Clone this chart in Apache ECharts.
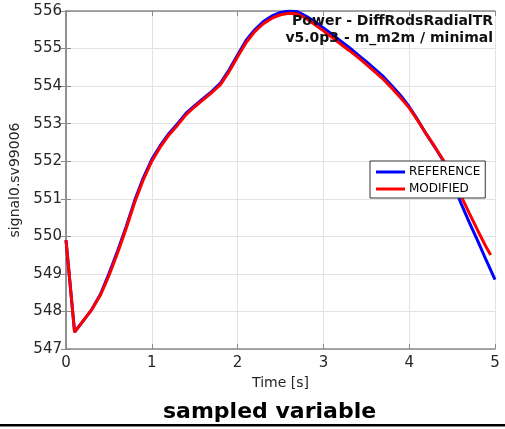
<!DOCTYPE html>
<html>
<head>
<meta charset="utf-8">
<script src="https://cdn.jsdelivr.net/npm/echarts@6/dist/echarts.min.js"></script>
<style>
html,body{margin:0;padding:0;background:#fff;}
#chart{width:505px;height:429px;}
</style>
</head>
<body>
<div id="chart"></div>
<script>
var timesRef = [0,0.1,0.2,0.3,0.4,0.5,0.6,0.7,0.8,0.9,1.0,1.1,1.2,1.3,1.4,1.5,1.6,1.7,1.8,1.9,2.0,2.1,2.2,2.3,2.4,2.5,2.6,2.7,2.8,2.9,3.0,3.1,3.2,3.3,3.4,3.5,3.6,3.7,3.8,3.9,4.0,4.1,4.2,4.3,4.4,4.5,4.6,4.7,4.8,4.9,5.0];
var reference = [549.9,547.45,547.75,548.05,548.45,549.0,549.6,550.25,550.95,551.55,552.05,552.42,552.74,553.0,553.28,553.48,553.67,553.86,554.08,554.43,554.83,555.22,555.5,555.72,555.87,555.96,556.0,555.98,555.86,555.72,555.55,555.38,555.2,555.03,554.84,554.65,554.45,554.25,554.0,553.75,553.45,553.1,552.72,552.37,552.0,551.45,550.9,550.37,549.87,549.35,548.85];
var timesMod = [0,0.1,0.2,0.3,0.4,0.5,0.6,0.7,0.8,0.9,1.0,1.1,1.2,1.3,1.4,1.5,1.6,1.7,1.8,1.9,2.0,2.1,2.2,2.3,2.4,2.5,2.6,2.7,2.8,2.9,3.0,3.1,3.2,3.3,3.4,3.5,3.6,3.7,3.8,3.9,4.0,4.1,4.2,4.3,4.4,4.5,4.6,4.7,4.8,4.9,4.95];
var modified = [549.9,547.45,547.75,548.05,548.43,548.95,549.55,550.2,550.9,551.5,552.0,552.38,552.7,552.96,553.24,553.45,553.64,553.83,554.04,554.38,554.78,555.16,555.45,555.66,555.81,555.9,555.94,555.92,555.8,555.64,555.47,555.3,555.12,554.95,554.77,554.58,554.38,554.18,553.94,553.69,553.42,553.08,552.72,552.38,552.02,551.58,551.1,550.62,550.15,549.7,549.5];
var seriesNames = ['REFERENCE','MODIFIED'];
var xTitle = 'Time [s]';
var yTitle = 'signal0.sv99006';
var plotTitle = ['Power - DiffRodsRadialTR','v5.0p3 - m_m2m / minimal'];
var caption = 'sampled variable';

function pairs(t, v){ var out=[]; for(var i=0;i<v.length;i++){ out.push([t[i], v[i]]); } return out; }

var FONT = 'DejaVu Sans';
var AX = '#8a8a8a';
var TXT = '#262626';
var chart = echarts.init(document.getElementById('chart'), null, {renderer:'canvas'});
var axisCommon = {
  axisLine:{show:true, lineStyle:{color:AX, width:1.5}},
  axisTick:{show:true, inside:true, length:5, lineStyle:{color:AX, width:1}}
};
chart.setOption({
  animation:false,
  backgroundColor:'#fff',
  grid:{left:66, right:10, top:11, bottom:80, containLabel:false},
  legend:{
    orient:'vertical', left:370, top:161,
    data:seriesNames,
    icon:'rect', itemWidth:29, itemHeight:3, itemGap:3,
    backgroundColor:'#fff', borderColor:'#333', borderWidth:1, borderRadius:0,
    padding:[4,5,2,6],
    textStyle:{fontFamily:FONT, fontSize:12, color:'#000', padding:[0,0,0,-1], lineHeight:14}
  },
  xAxis:[{
    type:'value', min:0, max:5, interval:1, position:'bottom',
    name:xTitle, nameLocation:'middle', nameGap:25,
    nameTextStyle:{fontFamily:FONT, fontSize:14, color:TXT},
    axisLine:axisCommon.axisLine, axisTick:axisCommon.axisTick,
    axisLabel:{fontFamily:FONT, fontSize:15, color:TXT, margin:7},
    splitLine:{show:true, lineStyle:{color:'#e3e3e3', width:1}}
  },{
    type:'value', min:0, max:5, interval:1, position:'top',
    axisLine:axisCommon.axisLine, axisTick:axisCommon.axisTick,
    axisLabel:{show:false}, splitLine:{show:false}
  }],
  yAxis:[{
    type:'value', min:547, max:556, interval:1, position:'left',
    name:yTitle, nameLocation:'middle', nameGap:38, nameRotate:90,
    nameTextStyle:{fontFamily:FONT, fontSize:14, color:TXT},
    axisLine:axisCommon.axisLine, axisTick:axisCommon.axisTick,
    axisLabel:{fontFamily:FONT, fontSize:15, color:TXT, margin:4},
    splitLine:{show:true, lineStyle:{color:'#e3e3e3', width:1}}
  },{
    type:'value', min:547, max:556, interval:1, position:'right',
    axisLine:axisCommon.axisLine, axisTick:axisCommon.axisTick,
    axisLabel:{show:false}, splitLine:{show:false}
  }],
  series:[{
    name:seriesNames[0], type:'line', data:pairs(timesRef, reference),
    showSymbol:false, symbol:'none', smooth:false,
    lineStyle:{color:'#0000ff', width:3}, itemStyle:{color:'#0000ff'}, z:2
  },{
    name:seriesNames[1], type:'line', data:pairs(timesMod, modified),
    showSymbol:false, symbol:'none', smooth:false,
    lineStyle:{color:'#ff0000', width:3}, itemStyle:{color:'#ff0000'}, z:3
  }],
  graphic:[
    {type:'text', right:12, top:13, z:10, style:{text:plotTitle.join('\n'), font:'bold 14px "DejaVu Sans"', fill:'#111', textAlign:'right', lineHeight:17}},
    {type:'text', left:163, top:401, z:10, style:{text:caption, font:'bold 22px "DejaVu Sans"', fill:'#000'}},
    {type:'rect', left:0, top:424, z:10, shape:{width:505, height:2.5}, style:{fill:'#000'}}
  ]
});
</script>
</body>
</html>
